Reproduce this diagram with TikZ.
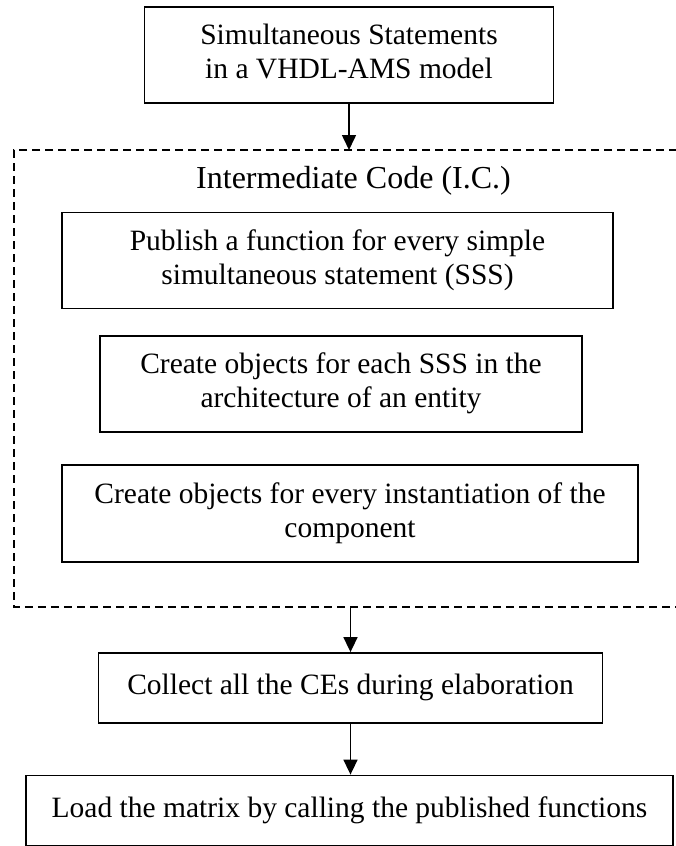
\documentclass[tikz,border=0pt]{standalone}
\usepackage{fontspec}
\setmainfont{Liberation Serif}
\usetikzlibrary{arrows.meta}
\newcommand{\boxtext}[2]{\raisebox{#1}{\begin{tabular}{@{}c@{}}#2\end{tabular}}}
\begin{document}
\begin{tikzpicture}[x=1pt,y=-1pt,
  box/.style={draw=black,line width=1.8pt,rectangle,inner sep=0pt,
    font=\fontsize{29.5}{34}\selectfont},
  frame/.style={line width=1.8pt,dash pattern=on 8pt off 5pt},
  conn/.style={line width=1.6pt,-{Triangle[length=15pt,width=14pt]}},
  lbl/.style={inner sep=0pt,font=\fontsize{32}{36}\selectfont}]
\useasboundingbox (0,0) rectangle (675,846);
\fill[white] (0,0) rectangle (675,846);
% dashed frame (right side lies outside the picture)
\draw[frame] (690,150) -- (14,150) -- (14,607) -- (690,607);
\coordinate (ictop) at (349,150);
\coordinate (icbot) at (350.5,607);
\node[box,minimum width=409pt,minimum height=96pt] (b1) at (349,55)
  {\boxtext{1pt}{Simultaneous Statements\\in a VHDL-AMS model}};
\node[lbl,anchor=base] (ictitle) at (353.5,188) {Intermediate Code (I.C.)};
\node[box,minimum width=551pt,minimum height=96pt] (b2) at (337.5,260.5)
  {\boxtext{2pt}{Publish a function for every simple\\simultaneous statement (SSS)}};
\node[box,minimum width=482pt,minimum height=96pt] (b3) at (341,384)
  {\boxtext{2pt}{Create objects for each SSS in the\\architecture of an entity}};
\node[box,minimum width=576pt,minimum height=97pt] (b4) at (350,513.5)
  {\boxtext{2pt}{Create objects for every instantiation of the\\component}};
\node[box,minimum width=504pt,minimum height=70pt] (b5) at (350.5,688)
  {\boxtext{5pt}{Collect all the CEs during elaboration}};
\node[box,minimum width=647pt,minimum height=70pt] (b6) at (349.5,810.5)
  {\boxtext{5pt}{Load the matrix by calling the published functions}};
\draw[conn] (b1.south) -- (ictop);
\draw[conn] (icbot) -- (b5.north);
\draw[conn] (b5.south) -- (b5.south |- b6.north);
\end{tikzpicture}
\end{document}
